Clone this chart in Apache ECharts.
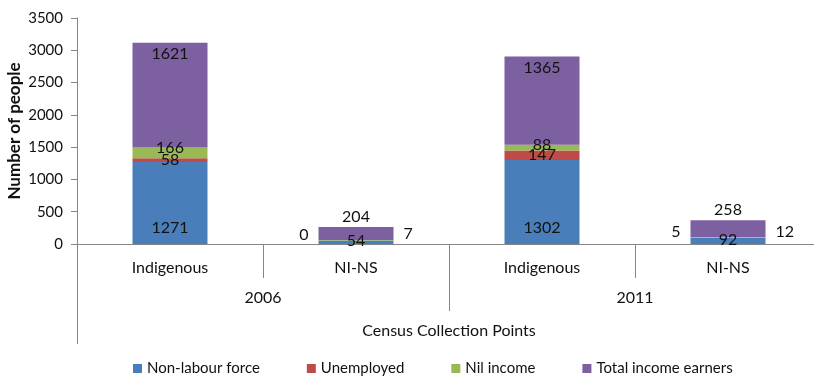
<!DOCTYPE html>
<html>
<head>
<meta charset="utf-8">
<script src="https://cdn.jsdelivr.net/npm/echarts@6/dist/echarts.min.js"></script>
<style>
  html, body { margin: 0; padding: 0; background: #fff; }
  #chart { width: 814px; height: 377px; }
</style>
</head>
<body>
<div id="chart"></div>
<script>
// Census collection points, grouped by year
const groups = ['Indigenous', 'NI-NS', 'Indigenous', 'NI-NS'];
const years = ['2006', '2011'];
const seriesNames = ['Non-labour force', 'Unemployed', 'Nil income', 'Total income earners'];

// Number of people in each category
const nonLabourForce = [1271, 54, 1302, 92];
const unemployed = [58, 0, 147, 5];
const nilIncome = [166, 7, 88, 12];
const totalIncomeEarners = [1621, 204, 1365, 258];

const yTicks = { min: 0, max: 3500, step: 500 };

const colors = ['#4A7EBB', '#BE4B48', '#98B954', '#7D60A0'];
const FONT = 'Lato, "Open Sans", sans-serif';
const AXIS_GREY = '#868686';
const TEXT = '#111';

const values = [nonLabourForce, unemployed, nilIncome, totalIncomeEarners];

// Label placement per series; the small NI-NS stacks put labels beside / above the bar
function labelFor(s, i) {
  const small = groups[i] === 'NI-NS';
  const base = { show: true, color: TEXT, fontSize: 16, fontFamily: FONT };
  if (s === 0) return Object.assign(base, small
    ? { position: 'inside', offset: [0, -1] }
    : { position: 'insideBottom', distance: 8 });
  if (s === 1) return Object.assign(base, small
    ? { position: 'left', distance: 10, offset: [0, -6] }
    : { position: 'inside' });
  if (s === 2) return Object.assign(base, small
    ? { position: 'right', distance: 10, offset: [0, -6] }
    : { position: ['50%', 0], align: 'center', verticalAlign: 'middle' });
  return Object.assign(base, small
    ? { position: 'top', distance: 2 }
    : { position: 'insideTop', distance: 3 });
}

const series = seriesNames.map((name, s) => ({
  name: name,
  type: 'bar',
  stack: 'total',
  xAxisIndex: 0,
  barWidth: 75,
  itemStyle: { color: colors[s] },
  data: values[s].map((v, i) => ({ value: v, label: labelFor(s, i) }))
}));

// One bottom axis per level: groups, years, and the overall title row
function levelAxis(data, tickLen, labelMargin) {
  return {
    type: 'category',
    data: data,
    position: 'bottom',
    offset: 0,
    axisLine: { show: true, lineStyle: { color: AXIS_GREY } },
    axisTick: { show: true, interval: 0, length: tickLen, lineStyle: { color: AXIS_GREY } },
    axisLabel: { show: true, interval: 0, margin: labelMargin, fontSize: 16, color: TEXT, fontFamily: FONT }
  };
}

const chart = echarts.init(document.getElementById('chart'));
chart.setOption({
  animation: false,
  textStyle: { fontFamily: FONT },
  grid: { left: 77, top: 18, width: 744, height: 226, containLabel: false, outerBoundsMode: 'none' },
  legend: {
    data: seriesNames,
    left: 128,
    top: 356,
    icon: 'rect',
    itemWidth: 9,
    itemHeight: 9,
    itemGap: 47,
    textStyle: { fontSize: 15, color: TEXT, fontFamily: FONT }
  },
  xAxis: [
    levelAxis(groups, 34, 16),
    levelAxis(years, 67, 46),
    levelAxis(['Census Collection Points'], 100, 79)
  ],
  yAxis: {
    type: 'value',
    min: yTicks.min,
    max: yTicks.max,
    interval: yTicks.step,
    name: 'Number of people',
    nameLocation: 'middle',
    nameRotate: 90,
    nameGap: 54,
    nameMoveOverlap: false,
    nameTextStyle: { fontSize: 17, fontWeight: 'bold', color: TEXT, fontFamily: FONT },
    axisLine: { show: true, lineStyle: { color: AXIS_GREY } },
    axisTick: { show: true, length: 6, lineStyle: { color: AXIS_GREY } },
    splitLine: { show: false },
    axisLabel: { margin: 14, fontSize: 15, color: TEXT, fontFamily: FONT, formatter: v => String(v) }
  },
  series: series
});
</script>
</body>
</html>
